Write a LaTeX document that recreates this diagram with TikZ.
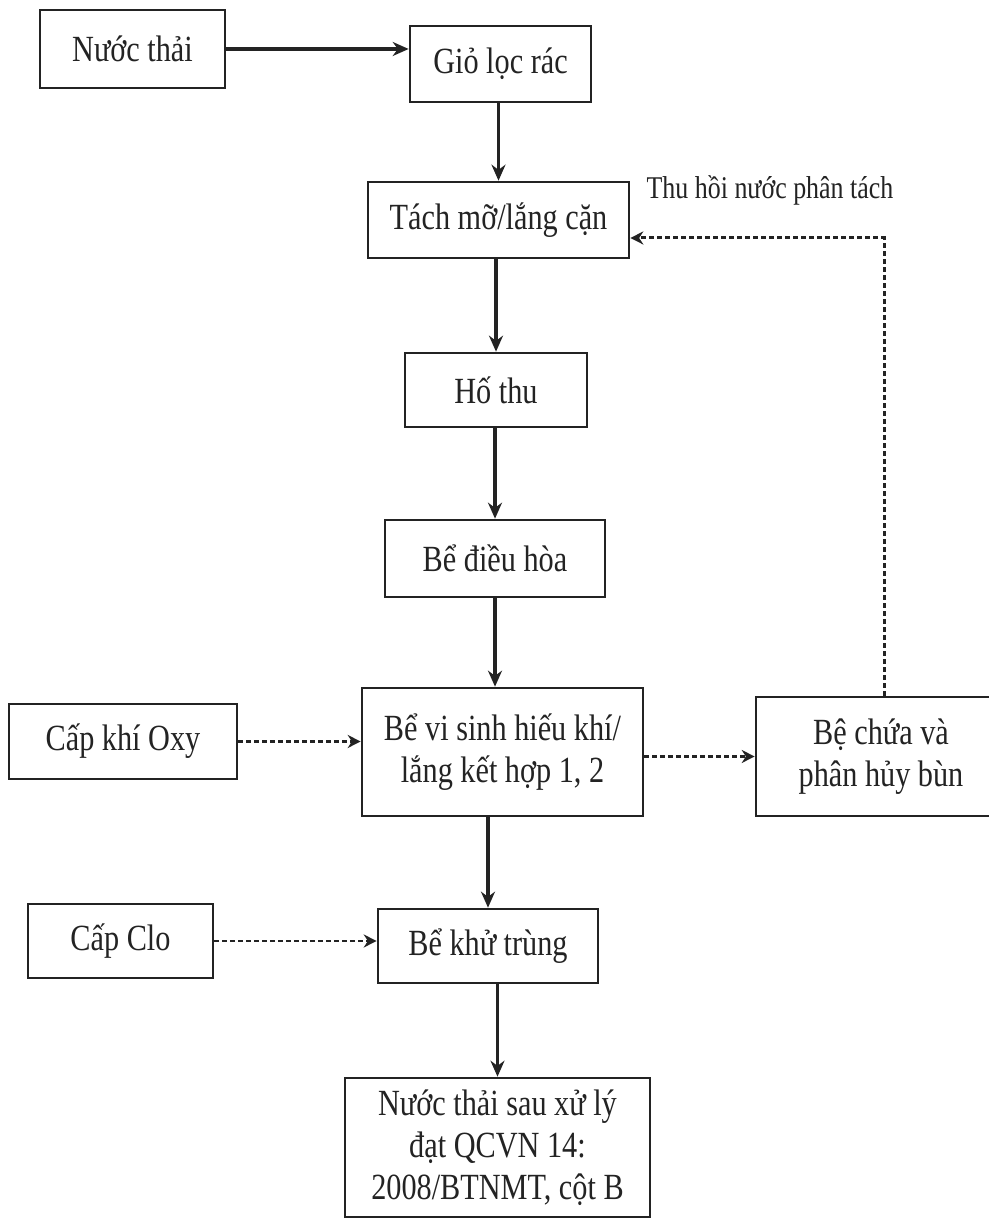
\documentclass[tikz,border=0pt]{standalone}
\usepackage{fontspec}
\setmainfont{Liberation Serif}[FakeStretch=0.82]
\definecolor{inkgray}{RGB}{35, 35, 35}
\usetikzlibrary{arrows.meta, positioning}

\begin{document}
\begin{tikzpicture}[
  stage/.style={draw=inkgray, line width=1.5pt, align=center, inner sep=4pt, text=inkgray, font=\fontsize{21}{24}\selectfont},
  flow/.style={draw=inkgray, line width=1.8pt, -{Stealth[length=0.32cm, width=0.28cm]}},
  aux/.style={draw=inkgray, line width=1.7pt, dash pattern=on 0.1cm off 0.06cm, -{Stealth[length=0.26cm, width=0.26cm]}}
]
  \useasboundingbox[fill=white] (0,0) rectangle (19.76,24.36);

  % Main treatment line
  \node[stage, minimum width=3.70cm, minimum height=1.56cm] (nuocthai) at (2.65, 23.38) {Nước thải};
  \node[stage, minimum width=3.62cm, minimum height=1.52cm] (giolocrac) at (10.01, 23.08) {Giỏ lọc rác};
  \node[stage, minimum width=5.22cm, minimum height=1.52cm] (tachmo) at (9.97, 19.96) {Tách mỡ/lắng cặn};
  \node[stage, minimum width=3.64cm, minimum height=1.48cm] (hothu) at (9.92, 16.56) {Hố thu};
  \node[stage, minimum width=4.40cm, minimum height=1.54cm] (dieuhoa) at (9.90, 13.19) {Bể điều hòa};
  \node[stage, minimum width=5.62cm, minimum height=2.56cm] (visinh) at (10.05, 9.32) {Bể vi sinh hiếu khí/\\lắng kết hợp 1, 2};
  \node[stage, minimum width=4.40cm, minimum height=1.48cm] (khutrung) at (9.76, 5.44) {Bể khử trùng};
  \node[stage, minimum width=6.10cm, minimum height=2.78cm] (dauRa) at (9.95, 1.41) {Nước thải sau xử lý\\đạt QCVN 14:\\2008/BTNMT, cột B};

  % Side inputs and sludge tank
  \node[stage, minimum width=4.56cm, minimum height=1.50cm] (capoxy) at (2.46, 9.53) {Cấp khí Oxy};
  \node[stage, minimum width=3.70cm, minimum height=1.48cm] (capclo) at (2.41, 5.54) {Cấp Clo};
  \node[stage, minimum width=5.00cm, minimum height=2.38cm] (bechua) at (17.62, 9.23) {Bệ chứa và\\phân hủy bùn};

  \node[text=inkgray, font=\fontsize{18}{20}\selectfont] (thuhoi) at (15.40, 20.56) {Thu hồi nước phân tách};

  % Connectors
  \draw[flow] (nuocthai.east) -- (nuocthai.east -| giolocrac.west);
  \draw[flow] (giolocrac.south -| tachmo.north) -- (tachmo.north);
  \draw[flow] (tachmo.south -| hothu.north) -- (hothu.north);
  \draw[flow] (hothu.south -| dieuhoa.north) -- (dieuhoa.north);
  \draw[flow] (dieuhoa.south) -- (dieuhoa.south |- visinh.north);
  \draw[flow] (visinh.south -| khutrung.north) -- (khutrung.north);
  \draw[flow] (khutrung.south -| dauRa.north) -- (dauRa.north);

  \draw[aux] (capoxy.east) -- (capoxy.east -| visinh.west);
  \draw[aux] (bechua.west -| visinh.east) -- (bechua.west);
  \draw[aux] (capclo.east) -- (capclo.east -| khutrung.west);
  \draw[aux] ([xshift=0.06cm]bechua.north) |- ([yshift=-0.36cm]tachmo.east);
\end{tikzpicture}
\end{document}
